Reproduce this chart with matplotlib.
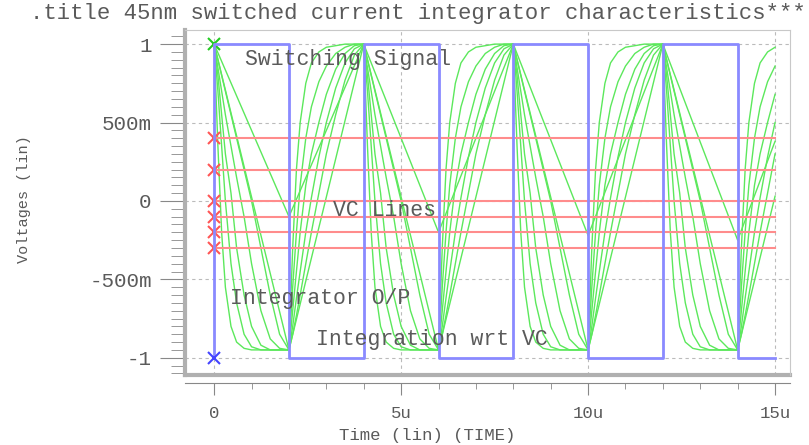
import matplotlib.pyplot as plt
from matplotlib.ticker import MultipleLocator, FixedLocator, FixedFormatter

MONO = ['Liberation Mono', 'DejaVu Sans Mono']

# switching signal (time in us)
switch_t = [0, 0, 2, 2, 4, 4, 6, 6, 8, 8, 10, 10, 12, 12, 14, 14, 15]
switch_v = [-1, 1, 1, -1, -1, 1, 1, -1, -1, 1, 1, -1, -1, 1, 1, -1, -1]

# VC lines
vc_levels = [0.4, 0.2, 0.0, -0.1, -0.2, -0.3]
vc_t = [0, 15]

# integrator outputs: one shape per half cycle
fall_starts = [0, 4, 8, 12]
rise_starts = [2, 6, 10, 14]
tau = [0, 0.1, 0.2, 0.3, 0.45, 0.6, 0.8, 1.0, 1.25, 1.5, 1.75, 2.0]
fall_curves = [
    [1, 0.35, -0.2, -0.55, -0.8, -0.9, -0.94, -0.95, -0.95, -0.95, -0.95, -0.95],
    [1, 0.7, 0.35, 0.0, -0.4, -0.65, -0.85, -0.93, -0.95, -0.95, -0.95, -0.95],
    [1, 0.8, 0.55, 0.3, 0.05, -0.3, -0.6, -0.8, -0.92, -0.95, -0.95, -0.95],
    [1, 0.85, 0.7, 0.55, 0.35, 0.15, -0.1, -0.4, -0.7, -0.88, -0.94, -0.95],
    [1, 0.9, 0.8, 0.7, 0.55, 0.4, 0.2, 0.0, -0.3, -0.6, -0.85, -0.95],
]
rise_curves = [
    [-0.95, -0.3, 0.2, 0.5, 0.75, 0.88, 0.95, 0.98, 0.99, 1.0, 1.0, 1.0],
    [-0.95, -0.55, -0.2, 0.1, 0.4, 0.6, 0.76, 0.86, 0.94, 0.98, 1.0, 1.0],
    [-0.95, -0.7, -0.45, -0.2, 0.1, 0.3, 0.5, 0.68, 0.84, 0.94, 0.99, 1.0],
    [-0.95, -0.8, -0.62, -0.45, -0.2, 0.02, 0.28, 0.5, 0.72, 0.88, 0.97, 1.0],
    [-0.95, -0.85, -0.73, -0.6, -0.4, -0.2, 0.05, 0.3, 0.55, 0.77, 0.93, 1.0],
]
# the two slow ones are straight ramps
ramp_t = [0, 2, 4, 6, 8, 10, 12, 14, 15]
ramp_a_v = [1, -0.95, 1, -0.95, 1, -0.95, 1, -0.95, 0.03]
ramp_b_v = [1, -0.1, 1, -0.2, 1, -0.22, 1, -0.25, 0.38]

x_ticks = [0, 5, 10, 15]
x_labels = ['0', '5u', '10u', '15u']
y_ticks = [-1, -0.5, 0, 0.5, 1]
y_labels = ['-1', '-500m', '0', '500m', '1']

fig = plt.figure(figsize=(8.09, 4.45), dpi=100)
ax = fig.add_axes([185 / 809, 1 - 375 / 445, 605 / 809, 345 / 445])

green = '#5ce85c'
for fall, rise in zip(fall_curves, rise_curves):
    ts, vs = [], []
    for s0, s1 in zip(fall_starts, rise_starts):
        ts += [s0 + a for a in tau]
        vs += fall
        for a, v in zip(tau, rise):
            if s1 + a <= 15:
                ts.append(s1 + a)
                vs.append(v)
    ax.plot(ts, vs, color=green, lw=1)
ax.plot(ramp_t, ramp_a_v, color=green, lw=1)
ax.plot(ramp_t, ramp_b_v, color=green, lw=1)
ax.plot([0], [1], marker='x', color='#22cc22', ms=8, mew=1.5)

for vc in vc_levels:
    ax.plot(vc_t, [vc, vc], color='#ff8c8c', lw=1.5)
    ax.plot([0], [vc], marker='x', color='#ff5555', ms=8, mew=1.5)

ax.plot(switch_t, switch_v, color='#8a8aff', lw=2)
ax.plot([0], [-1], marker='x', color='#4444ff', ms=8, mew=1.5)

txt = dict(family=MONO, fontsize=15.5, color='#5a5a5a', va='center', ha='left')
ax.text(0.82, 0.90, 'Switching Signal', **txt)
ax.text(3.18, -0.06, 'VC Lines', **txt)
ax.text(0.43, -0.62, 'Integrator O/P', **txt)
ax.text(2.73, -0.885, 'Integration wrt VC', **txt)

ax.set_xlim(-0.78, 15.4)
ax.set_ylim(-1.11, 1.09)
ax.xaxis.set_major_locator(FixedLocator(x_ticks))
ax.xaxis.set_major_formatter(FixedFormatter(x_labels))
ax.xaxis.set_minor_locator(MultipleLocator(1))
ax.yaxis.set_major_locator(FixedLocator(y_ticks))
ax.yaxis.set_major_formatter(FixedFormatter(y_labels))
ax.yaxis.set_minor_locator(MultipleLocator(0.05))
ax.grid(True, which='major', color='#bbbbbb', lw=0.8, ls=(0, (3, 3)))

for s in ['top', 'right']:
    ax.spines[s].set_color('#c8c8c8')
ax.spines['left'].set_color('#b0b0b0')
ax.spines['left'].set_linewidth(3)
ax.spines['bottom'].set_position(('outward', 6))
ax.spines['bottom'].set_color('#888888')
ax.plot([0, 1], [0, 0], transform=ax.transAxes, color='#b0b0b0', lw=3, clip_on=False)

ax.tick_params(axis='y', which='major', length=18, color='#888888', pad=6,
               labelsize=15, labelcolor='#5a5a5a')
ax.tick_params(axis='y', which='minor', length=10, color='#888888')
ax.tick_params(axis='x', which='major', length=8.5, color='#888888', pad=8,
               labelsize=12.5, labelcolor='#5a5a5a')
ax.tick_params(axis='x', which='minor', length=4.5, color='#888888')
for lab in ax.get_xticklabels() + ax.get_yticklabels():
    lab.set_family(MONO)

ax.set_xlabel('Time (lin) (TIME)', family=MONO, fontsize=12.5, color='#5a5a5a')
ax.xaxis.set_label_coords(0.4, -0.155)
ax.set_ylabel('Voltages (lin)', family=MONO, fontsize=11, color='#5a5a5a')
ax.yaxis.set_label_coords(-0.255, 0.51)

fig.text(30 / 809, 1 - 13 / 445, '.title 45nm switched current integrator characteristics***',
         family=MONO, fontsize=16, color='#5a5a5a', va='center', ha='left')

fig.savefig('out.png', dpi=100)
